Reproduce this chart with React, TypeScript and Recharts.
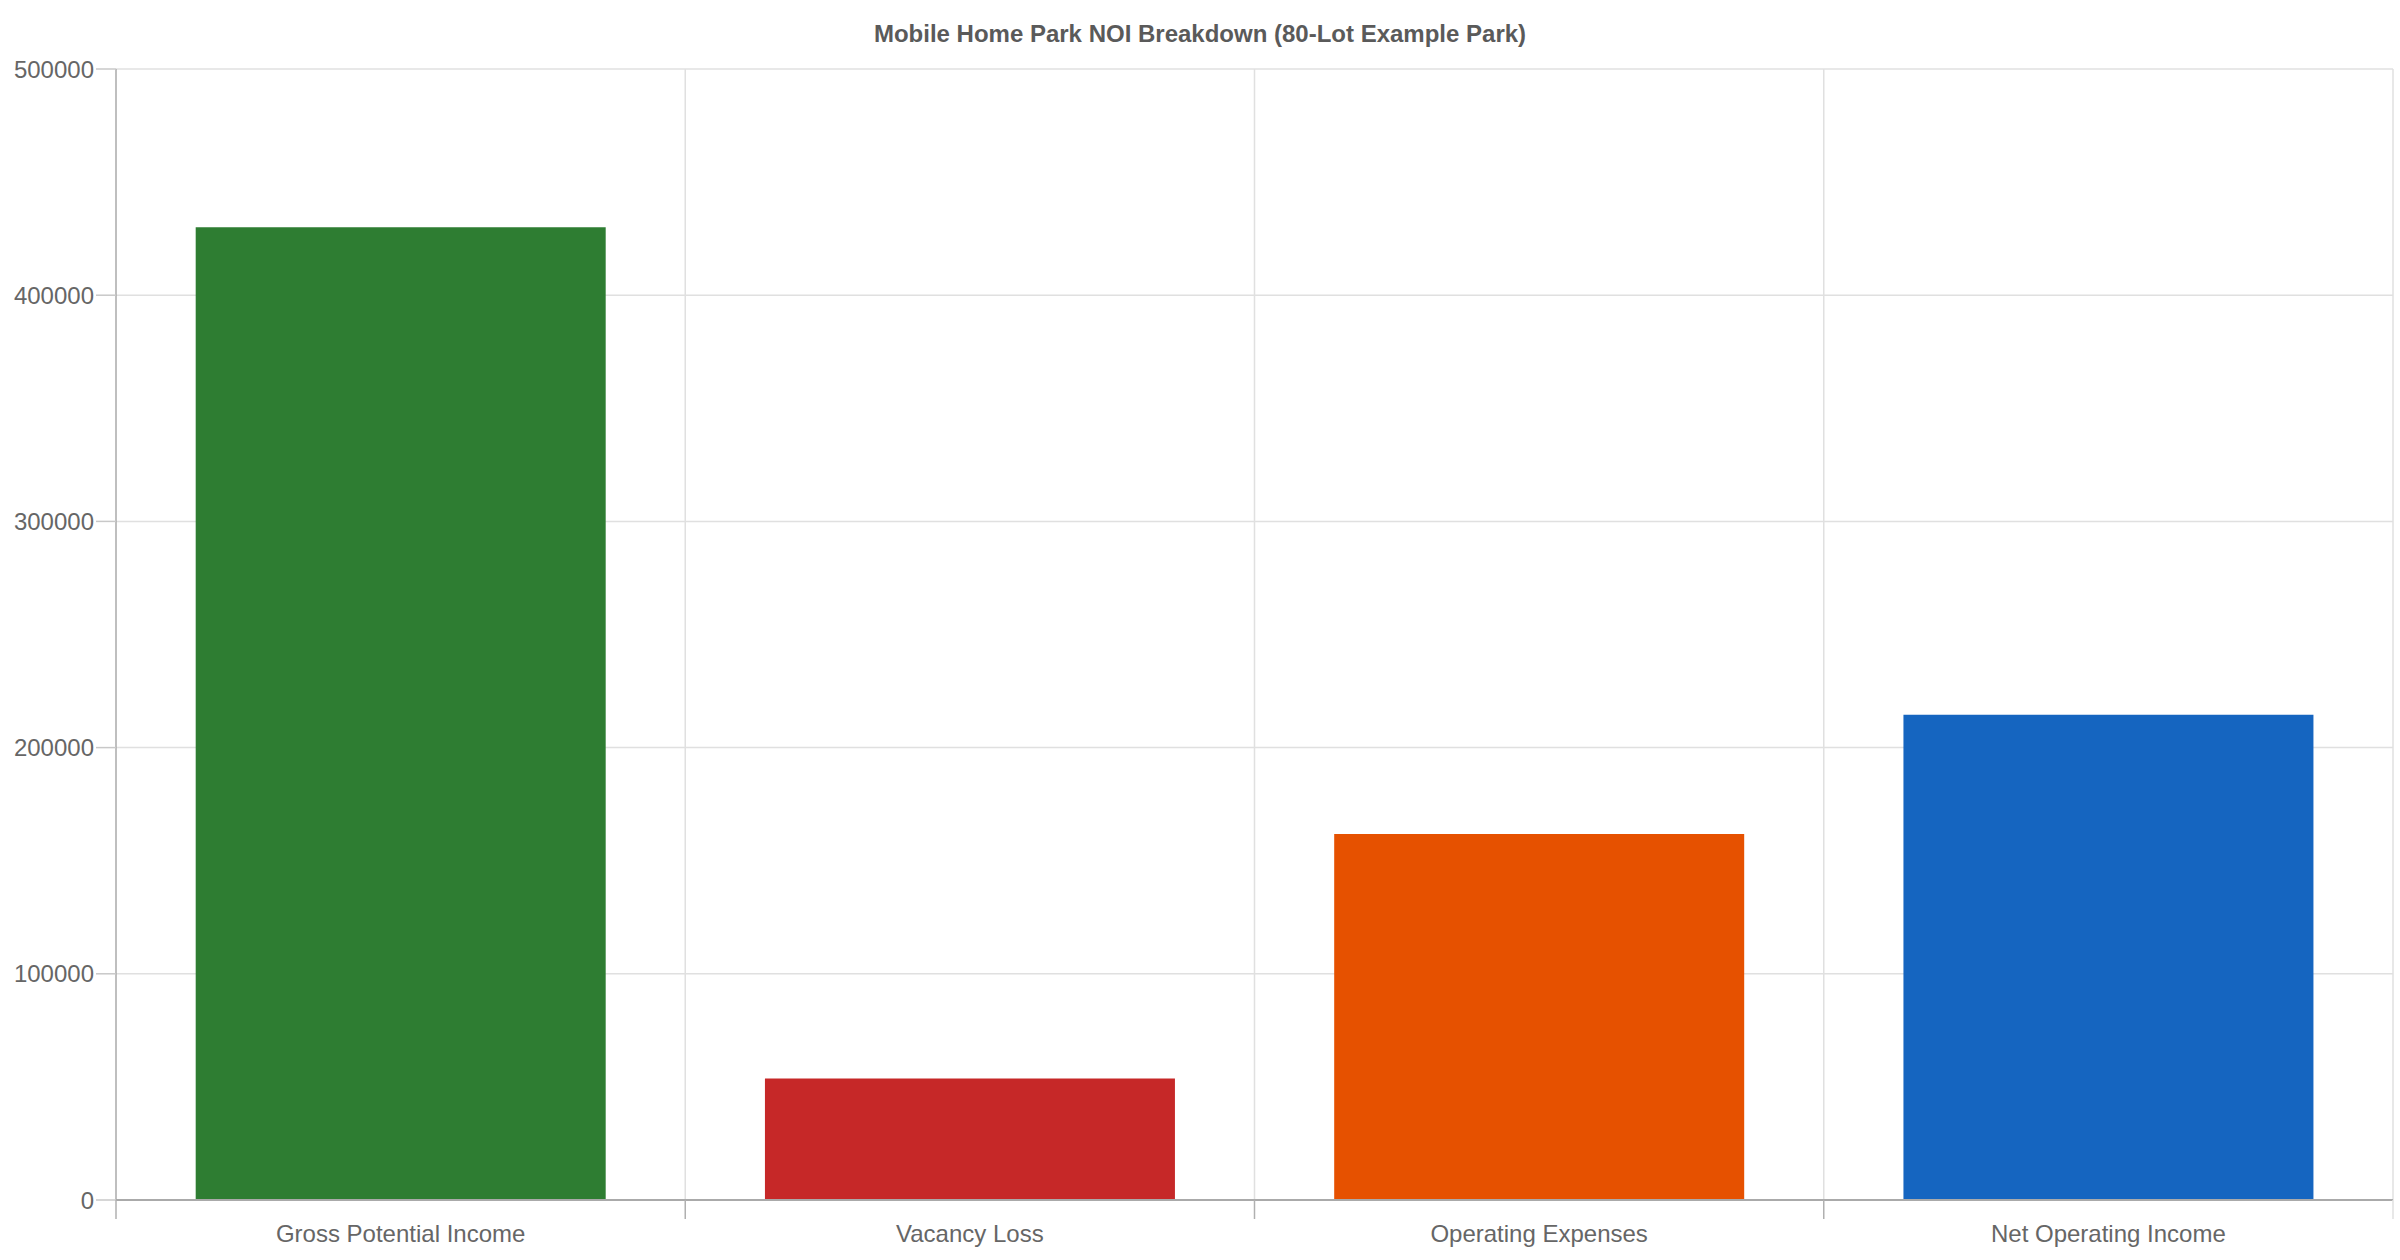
import { Bar, BarChart, CartesianGrid, Cell, XAxis, YAxis } from "recharts"

const categories = ["Gross Potential Income", "Vacancy Loss", "Operating Expenses", "Net Operating Income"]
const amounts = [430080, 53760, 161818, 214502]
const barColors = ["#2E7D32", "#C62828", "#E65100", "#1565C0"]
const yTicks = [0, 100000, 200000, 300000, 400000, 500000]

const data = categories.map((name, i) => ({ name, value: amounts[i] }))

const W = 2400
const H = 1260
const Y_AXIS_W = 116
const MARGIN_RIGHT = 7
const MARGIN_TOP = 69
const X_AXIS_H = 60
const TICK_LEN = 19
const TICK_GAP = 6

const plotW = W - Y_AXIS_W - MARGIN_RIGHT
const band = plotW / categories.length

function CategoryTick(props: any) {
  const { x, y, payload, index } = props
  const axisY = y - TICK_LEN - TICK_GAP
  const left = x - band / 2
  return (
    <g>
      <line x1={left} x2={left} y1={axisY} y2={axisY + TICK_LEN} stroke="#b0b0b0" strokeWidth={1.5} />
      {index === categories.length - 1 && (
        <line x1={left + band} x2={left + band} y1={axisY} y2={axisY + TICK_LEN} stroke="#e0e0e0" strokeWidth={1.5} />
      )}
      <text x={x} y={y} dy="0.72em" textAnchor="middle" fill="#666666" fontSize={24}>
        {payload.value}
      </text>
    </g>
  )
}

export default function App() {
  const verticalLines = categories.map((_, i) => Y_AXIS_W + band * (i + 1))
  return (
    <div style={{ position: "absolute", left: 0, top: 0, width: W, height: H, background: "#fff", fontFamily: "'Liberation Sans', Arial, sans-serif" }}>
      <div
        style={{
          position: "absolute",
          top: 22,
          left: 0,
          width: W,
          textAlign: "center",
          fontSize: 24,
          lineHeight: "24px",
          fontWeight: "bold",
          color: "#5a5a5a",
        }}
      >
        Mobile Home Park NOI Breakdown (80-Lot Example Park)
      </div>
      <BarChart
        width={W}
        height={H}
        data={data}
        margin={{ top: MARGIN_TOP, right: MARGIN_RIGHT, left: 0, bottom: 0 }}
        barCategoryGap="14%"
        style={{ fontFamily: "'Liberation Sans', Arial, sans-serif" }}
      >
        <CartesianGrid stroke="#e0e0e0" strokeWidth={1.5} verticalPoints={verticalLines} />
        <XAxis
          dataKey="name"
          height={X_AXIS_H}
          axisLine={{ stroke: "#aaaaaa", strokeWidth: 2 }}
          tickLine={false}
          tickSize={TICK_LEN}
          tickMargin={TICK_GAP}
          tick={<CategoryTick />}
          interval={0}
        />
        <YAxis
          width={Y_AXIS_W}
          domain={[0, 500000]}
          ticks={yTicks}
          axisLine={{ stroke: "#aaaaaa", strokeWidth: 1.5 }}
          tickLine={{ stroke: "#c8c8c8", strokeWidth: 1.5 }}
          tickSize={20}
          tickMargin={2}
          tick={{ fill: "#666666", fontSize: 24 }}
        />
        <Bar dataKey="value" isAnimationActive={false}>
          {data.map((d, i) => (
            <Cell key={d.name} fill={barColors[i]} />
          ))}
        </Bar>
      </BarChart>
    </div>
  )
}
